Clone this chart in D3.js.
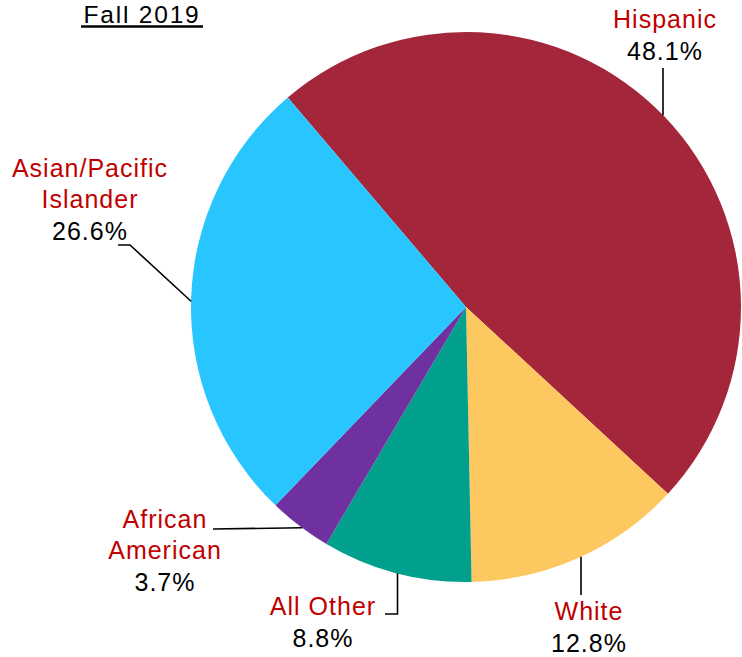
<!DOCTYPE html>
<html>
<head>
<meta charset="utf-8">
<script src="https://cdn.jsdelivr.net/npm/d3@7"></script>
<style>
  html, body { margin: 0; padding: 0; background: #fff; }
  svg { display: block; font-family: "Liberation Sans", Arial, Helvetica, sans-serif; }
</style>
</head>
<body>
<svg id="chart" width="742" height="657"></svg>
<script>
// Enrollment share by ethnicity, Fall 2019
const categories = ["Hispanic", "White", "All Other", "African American", "Asian/Pacific Islander"];
const values = [48.1, 12.8, 8.8, 3.7, 26.6];
const labelLines = [["Hispanic"], ["White"], ["All Other"], ["African", "American"], ["Asian/Pacific", "Islander"]];
const title = "Fall 2019";

const colors = ["#A3263A", "#FEC861", "#00A08D", "#7031A0", "#29C5FF"];

const svg = d3.select("#chart");
const cx = 466, cy = 307, r = 275;
const deg = Math.PI / 180;

const pie = d3.pie().sort(null).value(d => d)
  .startAngle(-40.4 * deg).endAngle(319.6 * deg);
const arcs = pie(values);
const arc = d3.arc().innerRadius(0).outerRadius(r);

const g = svg.append("g").attr("transform", `translate(${cx},${cy})`);
g.selectAll("path").data(arcs).join("path")
  .attr("d", arc)
  .attr("fill", (d, i) => colors[i]);

// point on the rim for a given angle (clockwise from 12 o'clock)
const rim = a => [cx + r * Math.sin(a * deg), cy - r * Math.cos(a * deg)];

// label layout: anchor x, first baseline, leader path
const layout = [
  { x: 665, y: 28, leader: () => { const p = rim(45.8); return [[663, 68], [663, p[1]]]; } },
  { x: 589, y: 620, leader: () => { const p = rim(155.3); return [[581, 595], [581, p[1]]]; } },
  { x: 323, y: 615, leader: () => { const p = rim(194.4); return [[385, 614], [397.5, 614], [397.5, p[1]]]; } },
  { x: 165, y: 528, leader: () => [[213, 529], rim(216.6)] },
  { x: 90, y: 177, leader: () => [[118, 245], [130, 245], rim(271.2)] }
];

const lineGap = 31;
const fontSize = 25;
const spacing = 1;

// leader lines
svg.append("g").selectAll("path").data(layout).join("path")
  .attr("d", d => d3.line()(d.leader()))
  .attr("fill", "none")
  .attr("stroke", "#000")
  .attr("stroke-width", 1.6);

// labels
layout.forEach((L, i) => {
  const t = svg.append("g");
  labelLines[i].forEach((s, j) => {
    t.append("text")
      .attr("x", L.x).attr("y", L.y + j * lineGap)
      .attr("text-anchor", "middle")
      .attr("font-size", fontSize)
      .attr("letter-spacing", spacing)
      .attr("fill", "#C00000")
      .text(s);
  });
  t.append("text")
    .attr("x", L.x).attr("y", L.y + labelLines[i].length * lineGap + 1)
    .attr("text-anchor", "middle")
    .attr("font-size", fontSize)
    .attr("letter-spacing", spacing)
    .attr("fill", "#000")
    .text(d3.format(".1f")(values[i]) + "%");
});

// title with underline
svg.append("text")
  .attr("x", 142).attr("y", 22.5)
  .attr("text-anchor", "middle")
  .attr("font-size", 24.5)
  .attr("letter-spacing", 1.8)
  .attr("fill", "#000")
  .text(title);
svg.append("line")
  .attr("x1", 81).attr("x2", 203)
  .attr("y1", 26.5).attr("y2", 26.5)
  .attr("stroke", "#000").attr("stroke-width", 2.5);
</script>
</body>
</html>
